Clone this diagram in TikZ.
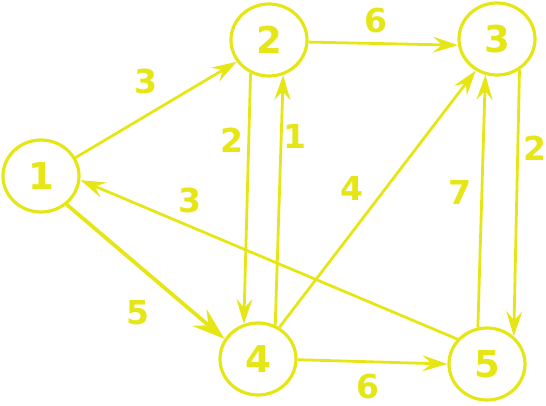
\documentclass[tikz,border=0pt]{standalone}
\usepackage{fontspec}
\setsansfont{DejaVu Sans}
\usepackage{tikz}
\usetikzlibrary{shapes.geometric, arrows.meta}
\definecolor{GraphYellow}{HTML}{E6E617}

\begin{document}
\begin{tikzpicture}[
		x=1pt, y=-1pt,
		vertex/.style={draw=GraphYellow, ellipse, line width=3.2pt,
			minimum width=76pt, minimum height=72pt, inner sep=0pt,
			text=GraphYellow, font=\fontsize{37}{37}\selectfont\sffamily\bfseries},
		weight/.style={text=GraphYellow, inner sep=0pt,
			font=\fontsize{33}{33}\selectfont\sffamily\bfseries},
		arr/.style={-{Stealth[length=25pt, width=16pt, inset=9pt]}, GraphYellow, line width=2.8pt},
		barr/.style={-{Stealth[length=33pt, width=22pt, inset=12pt]}, GraphYellow, line width=3.8pt},
		]
		\useasboundingbox (0,0) rectangle (546,405);
		% ── Vertices ────────────────────────────────────────────────────────────────
		\node[vertex] (n1) at (41,176)  {1};
		\node[vertex] (n2) at (269,40)  {2};
		\node[vertex] (n3) at (497,39)  {3};
		\node[vertex] (n4) at (258,359) {4};
		\node[vertex] (n5) at (487,364) {5};
		% ── Edges ───────────────────────────────────────────────────────────────────
		\draw[arr]  (n1.28)   -- (n2.214);
		\draw[barr] (n1.-48)  -- (n4.149);
		\draw[arr]  (n2.-3)   -- (n3.189);
		\draw[arr]  (n2.241)  -- (n4.112);
		\draw[arr]  (n4.63)   -- (n2.292);
		\draw[arr]  (n3.-54)  -- (n5.46);
		\draw[arr]  (n5.104)  -- (n3.252);
		\draw[arr]  (n4.56)   -- (n3.236);
		\draw[arr]  (n5.140)  -- (n1.-6);
		\draw[arr]  (n4.-1)   -- (n5.180);
		% ── Weights ─────────────────────────────────────────────────────────────────
		\node[weight] (w12) at (146,81)  {3};
		\node[weight] (w14) at (138,313) {5};
		\node[weight] (w23) at (376,21)  {6};
		\node[weight] (w24) at (232,140) {2};
		\node[weight] (w42) at (295,136) {1};
		\node[weight] (w35) at (535,148) {2};
		\node[weight] (w53) at (460,192) {7};
		\node[weight] (w43) at (352,188) {4};
		\node[weight] (w51) at (190,200) {3};
		\node[weight] (w45) at (368,386) {6};
	\end{tikzpicture}
\end{document}
